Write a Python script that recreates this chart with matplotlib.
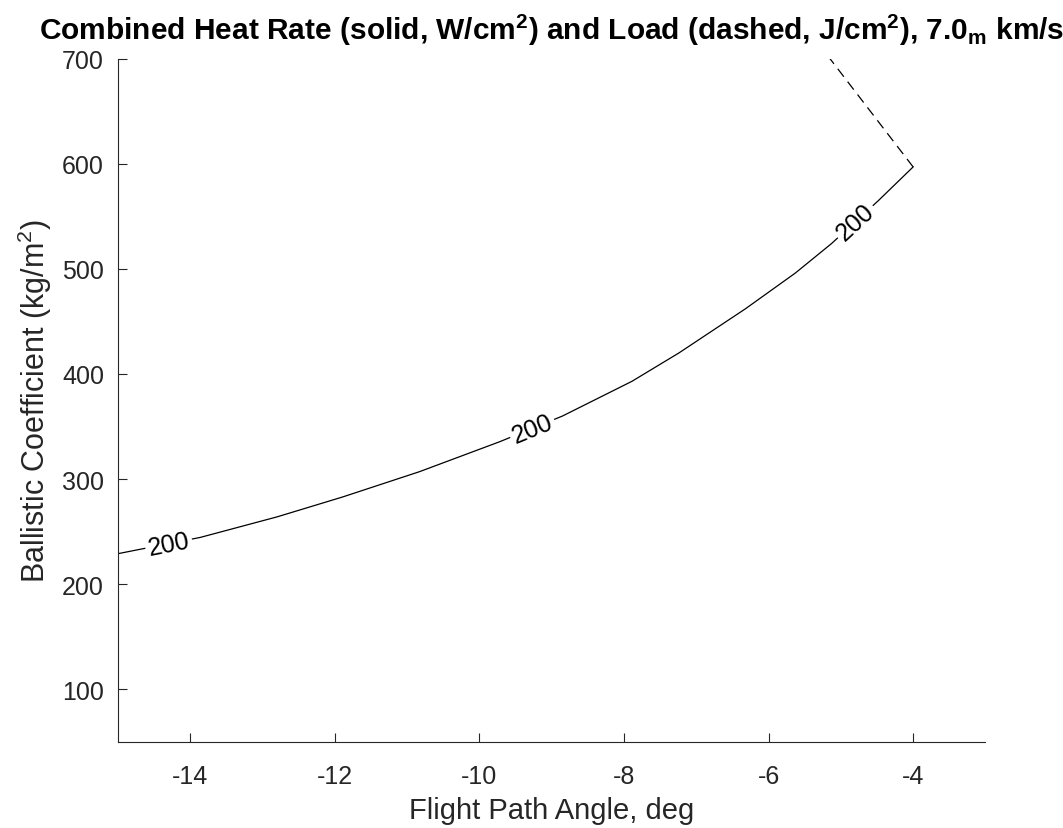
import numpy as np
import matplotlib.pyplot as plt

plt.rcParams['font.family'] = ['Liberation Sans', 'DejaVu Sans']
plt.rcParams['mathtext.fontset'] = 'custom'
plt.rcParams['mathtext.rm'] = 'Liberation Sans'
plt.rcParams['mathtext.it'] = 'Liberation Sans'
plt.rcParams['mathtext.bf'] = 'Liberation Sans:bold'
plt.rcParams['axes.unicode_minus'] = False

# contour 200 W/cm2 (heat rate, solid)
fpa_rate = [-15, -13.86, -12.80, -11.89, -10.83, -9.72, -8.85, -7.89, -7.24,
            -6.32, -5.63, -5.13, -4.48, -4.0]
bc_rate = [229, 244.5, 264, 283, 307, 335.5, 360, 393, 420,
           462, 496, 524, 565, 597]

# heat load contour (dashed)
fpa_load = [-4.0, -5.15]
bc_load = [597, 700]

# where the "200" labels sit
label_fpa = [-14.3, -9.27, -4.8]
label_text = ['200', '200', '200']

ink = '#262626'

fig = plt.figure(figsize=(10.63, 8.29), dpi=100)
ax = fig.add_axes([0.111, 0.104, 0.816, 0.824])

ax.plot(fpa_rate, bc_rate, color='black', lw=0.9)
ax.plot(fpa_load, bc_load, color='black', lw=0.9, ls=(0, (8, 5)))

ax.set_xlim(-15, -3)
ax.set_ylim(50, 700)

# inline labels, rotated along the curve
for xl, txt in zip(label_fpa, label_text):
    yl = np.interp(xl, fpa_rate, bc_rate)
    i = np.searchsorted(fpa_rate, xl)
    p1 = ax.transData.transform((fpa_rate[i - 1], bc_rate[i - 1]))
    p2 = ax.transData.transform((fpa_rate[i], bc_rate[i]))
    ang = np.degrees(np.arctan2(p2[1] - p1[1], p2[0] - p1[0]))
    ax.text(xl, yl, txt, rotation=ang, rotation_mode='anchor',
            ha='center', va='center', fontsize=18, color='black',
            bbox=dict(facecolor='white', edgecolor='none', pad=2))

ax.set_xticks([-14, -12, -10, -8, -6, -4])
ax.set_yticks([100, 200, 300, 400, 500, 600, 700])
ax.spines['top'].set_visible(False)
ax.spines['right'].set_visible(False)
for s in ('left', 'bottom'):
    ax.spines[s].set_color(ink)
    ax.spines[s].set_linewidth(0.8)
ax.tick_params(direction='in', length=6.5, width=0.8, colors=ink,
               labelsize=18)
ax.tick_params(axis='x', pad=16)
ax.tick_params(axis='y', pad=10)

ax.set_xlabel('Flight Path Angle, deg', fontsize=21, color=ink, labelpad=6)
ax.set_ylabel('Ballistic Coefficient (kg/m$^2$)', fontsize=22, color=ink,
              labelpad=6)
ax.set_title('Combined Heat Rate (solid, W/cm$^{\\mathbf{2}}$) and Load '
             '(dashed, J/cm$^{\\mathbf{2}}$), 7.0$_{\\mathbf{m}}$ km/s',
             fontsize=21.5, fontweight='bold', color='black', pad=14)

fig.savefig('out.png', dpi=100, facecolor='white')
